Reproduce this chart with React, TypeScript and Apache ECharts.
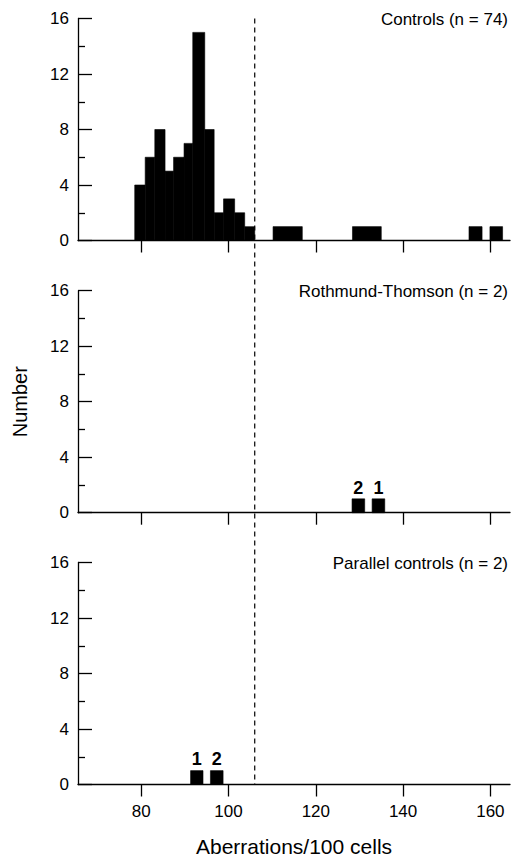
import React, { useEffect, useRef } from "react";
import * as echarts from "echarts";

// Controls histogram: bin start, bin end, count
const ctrlStart = [78.5, 80.9, 83.1, 85.45, 87.4, 89.8, 91.8, 94.55, 96.7, 98.85, 101.4, 103.7, 110.2, 128.4, 155.1, 159.9];
const ctrlEnd = [80.9, 83.1, 85.45, 87.4, 89.8, 91.8, 94.55, 96.7, 98.85, 101.4, 103.7, 106.0, 116.9, 135.0, 158.1, 162.8];
const ctrlCount = [4, 6, 8, 5, 6, 7, 15, 8, 2, 3, 2, 1, 1, 1, 1, 1];

// Rothmund-Thomson
const rtStart = [128.3, 132.9];
const rtEnd = [131.2, 135.8];
const rtCount = [1, 1];
const rtLabels = ["2", "1"];

// Parallel controls
const pcStart = [91.3, 95.85];
const pcEnd = [94.15, 98.75];
const pcCount = [1, 1];
const pcLabels = ["1", "2"];

const panelTitles = ["Controls (n = 74)", "Rothmund-Thomson (n = 2)", "Parallel controls (n = 2)"];
const xTicks = [80, 100, 120, 140, 160];
const cutoff = 106;
const X_MIN = 65.5;
const X_MAX = 164.5;
const Y_MIN = 0;
const Y_MAX = 16;
const Y_INTERVAL = 4;

const FONT = "Liberation Sans, Arial, Helvetica, sans-serif";

export default function App() {
  const ref = useRef<HTMLDivElement>(null);
  useEffect(() => {
    if (!ref.current) return;
    const chart = echarts.init(ref.current, undefined, { renderer: "svg" });
    const tops = [18.5, 290.7, 562.5];
    const grids = tops.map((t) => ({ left: 78, width: 432, top: t, height: 222 }));

    const xAxes = tops.map((_, i) => ({
      type: "value",
      gridIndex: i,
      min: X_MIN,
      max: X_MAX,
      splitLine: { show: false },
      axisLine: { show: true, onZero: false, lineStyle: { color: "#000", width: 1.3 } },
      axisTick: {
        show: true,
        inside: false,
        length: 12,
        customValues: xTicks,
        lineStyle: { color: "#000", width: 1.3 },
      },
      axisLabel: {
        show: i === 2,
        customValues: xTicks,
        color: "#000",
        fontSize: 17,
        fontFamily: FONT,
        margin: 18,
      },
      name: i === 2 ? "Aberrations/100 cells" : "",
      nameLocation: "middle",
      nameGap: 51,
      nameTextStyle: { color: "#000", fontSize: 21, fontFamily: FONT },
    }));

    const yAxes = tops.map((_, i) => ({
      type: "value",
      gridIndex: i,
      min: Y_MIN,
      max: Y_MAX,
      interval: Y_INTERVAL,
      splitLine: { show: false },
      axisLine: { show: true, lineStyle: { color: "#000", width: 1.3 } },
      axisTick: { show: true, inside: true, length: 14, lineStyle: { color: "#000", width: 1.3 } },
      minorTick: { show: true, splitNumber: 2, length: 7, lineStyle: { color: "#000", width: 1.3 } },
      axisLabel: { color: "#000", fontSize: 17, fontFamily: FONT, margin: 9 },
      name: i === 1 ? "Number" : "",
      nameLocation: "middle",
      nameGap: 48,
      nameRotate: 90,
      nameTextStyle: { color: "#000", fontSize: 20, fontFamily: FONT },
    }));

    const makeData = (s: number[], e: number[], c: number[], labels?: string[]) =>
      s.map((v, k) => ({ value: [v, e[k], c[k]], label: labels ? labels[k] : "" }));

    const datasets = [
      makeData(ctrlStart, ctrlEnd, ctrlCount),
      makeData(rtStart, rtEnd, rtCount, rtLabels),
      makeData(pcStart, pcEnd, pcCount, pcLabels),
    ];

    const series = datasets.map((data, i) => ({
      type: "custom",
      xAxisIndex: i,
      yAxisIndex: i,
      data,
      renderItem: (params: any, api: any) => {
        const p0 = api.coord([api.value(0), api.value(2)]);
        const p1 = api.coord([api.value(1), 0]);
        const lbl = (data[params.dataIndex] as any).label;
        return {
          type: "rect",
          shape: { x: p0[0], y: p0[1], width: p1[0] - p0[0], height: p1[1] - p0[1] },
          style: { fill: "#000", stroke: "#000", lineWidth: 0.6 },
          textContent: lbl
            ? {
                style: {
                  text: lbl,
                  fill: "#000",
                  fontSize: 18,
                  fontWeight: "bold",
                  fontFamily: FONT,
                },
              }
            : undefined,
          textConfig: lbl ? { position: "top", distance: 2 } : undefined,
        };
      },
    }));

    chart.setOption({
      animation: false,
      backgroundColor: "#fff",
      grid: grids,
      xAxis: xAxes,
      yAxis: yAxes,
      series,
    } as any);

    const top = chart.convertToPixel({ gridIndex: 0 }, [cutoff, Y_MAX]) as number[];
    const bot = chart.convertToPixel({ gridIndex: 2 }, [cutoff, Y_MIN]) as number[];
    const titleGraphics = tops.map((_, i) => {
      const pt = chart.convertToPixel({ gridIndex: i }, [X_MAX, Y_MAX]) as number[];
      return {
        type: "text",
        right: 4,
        top: pt[1] - 8,
        style: { text: panelTitles[i], fill: "#000", fontSize: 17, fontFamily: FONT },
      };
    });
    chart.setOption({
      graphic: [
        {
          type: "line",
          shape: { x1: top[0], y1: top[1], x2: bot[0], y2: bot[1] },
          style: { stroke: "#000", lineWidth: 1.2, lineDash: [5, 4] },
        },
        ...titleGraphics,
      ],
    } as any);

    return () => chart.dispose();
  }, []);
  return (
    <div
      ref={ref}
      style={{ position: "absolute", left: 0, top: 0, width: 512, height: 859 }}
    />
  );
}
